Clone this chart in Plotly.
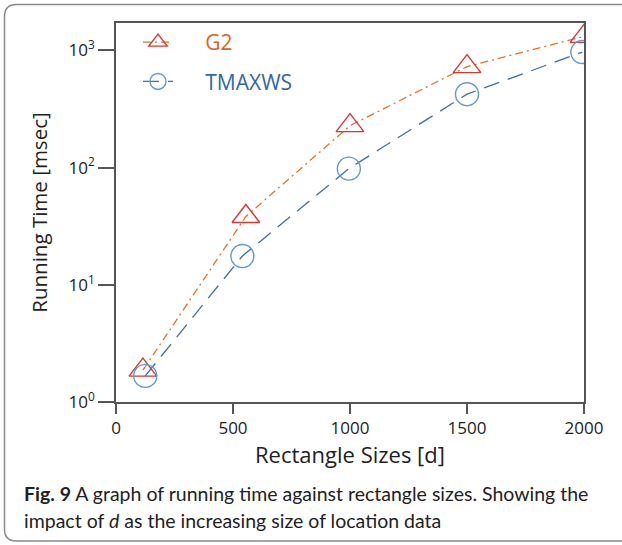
import plotly.graph_objects as go

# ---- data ----
sizes_g2 = [115, 555, 1000, 1500, 2000]
time_g2 = [1.87, 38.3, 228, 727, 1318]
sizes_tmaxws = [125, 540, 995, 1500, 1993]
time_tmaxws = [1.67, 17.6, 98, 423, 969]

ytick_vals = [1, 10, 100, 1000]
ytick_text = ["10<sup>0</sup>", "10<sup>1</sup>", "10<sup>2</sup>", "10<sup>3</sup>"]
xtick_vals = [0, 500, 1000, 1500, 2000]

W, H = 622, 545
L, R, T, B = 116, 38, 23, 143
PW, PH = W - L - R, H - T - B


def px(x):
    return (x - L) / PW


def py(y):
    return (H - B - y) / PH


FONT = "Open Sans"
CAP_FONT = "Lato"
NB = "&nbsp;" * 5

fig = go.Figure()
fig.add_trace(go.Scatter(
    x=sizes_g2, y=time_g2, mode="lines+markers",
    name=f"{NB}<span style='color:#d9651f'>G2</span>",
    line=dict(color="#e0732c", width=1.3, dash="8px,4px,2px,4px"),
    marker=dict(symbol="triangle-up-open", size=24,
                line=dict(color="#d03a35", width=1.4), color="#d03a35"),
    legendgroup="a",
))
fig.add_trace(go.Scatter(
    x=sizes_tmaxws, y=time_tmaxws, mode="lines+markers",
    name=f"{NB}<span style='color:#2f6aa3'>TMAXWS</span>",
    line=dict(color="#3d6fa8", width=1.3, dash="16px,9px"),
    marker=dict(symbol="circle-open", size=23,
                line=dict(color="#5e9bd3", width=1.4), color="#5e9bd3"),
    legendgroup="b",
))

axis_col = "#555555"
fig.update_xaxes(
    range=[0, 2000], tickvals=xtick_vals, ticks="outside", ticklen=10,
    tickwidth=1.5, tickcolor=axis_col, showline=True, linecolor=axis_col,
    linewidth=1.5, mirror=True, showgrid=False, zeroline=False,
    tickfont=dict(family=FONT, size=17, color="#222"),
    title=dict(text="Rectangle Sizes [d]", font=dict(family=FONT, size=22, color="#222"), standoff=6),
)
fig.update_yaxes(
    type="log", range=[0, 3.234], tickvals=ytick_vals, ticktext=ytick_text,
    ticks="outside", ticklen=16, tickwidth=1.5, tickcolor=axis_col,
    showline=True, linecolor=axis_col, linewidth=1.5, mirror=True,
    showgrid=False, zeroline=False,
    tickfont=dict(family=FONT, size=17, color="#222"),
    title=dict(text="Running Time [msec]", font=dict(family=FONT, size=20.5, color="#222"), standoff=15),
)

# outer rounded frame
r = 12
path = (f"M {px(650)},{py(4.5)} L {px(4.5 + r)},{py(4.5)} "
        f"Q {px(4.5)},{py(4.5)} {px(4.5)},{py(4.5 + r)} "
        f"L {px(4.5)},{py(541 - r)} Q {px(4.5)},{py(541)} {px(4.5 + r)},{py(541)} "
        f"L {px(650)},{py(541)}")
fig.add_shape(type="path", path=path, xref="paper", yref="paper",
              line=dict(color="#8a8a8a", width=1.5), layer="above")

fig.add_annotation(
    text="<b>Fig. 9</b> A graph of running time against rectangle sizes. Showing the",
    xref="paper", yref="paper", x=px(22), y=py(493), xanchor="left", yanchor="middle",
    showarrow=False, font=dict(family=CAP_FONT, size=19.5, color="#222"))
fig.add_annotation(
    text="impact of <i>d</i> as the increasing size of location data",
    xref="paper", yref="paper", x=px(22), y=py(520), xanchor="left", yanchor="middle",
    showarrow=False, font=dict(family=CAP_FONT, size=19.5, color="#222"))

fig.update_layout(
    width=W, height=H,
    margin=dict(l=L, r=R, t=T, b=B, autoexpand=False),
    paper_bgcolor="white", plot_bgcolor="white",
    showlegend=True,
    legend=dict(x=px(138), y=py(22), xanchor="left", yanchor="top",
                bgcolor="rgba(0,0,0,0)", borderwidth=0,
                font=dict(family=FONT, size=21),
                tracegroupgap=9, traceorder="grouped"),
)

fig.write_html("out.html", config={"displayModeBar": False},
               post_script="document.body.style.margin='0';")
